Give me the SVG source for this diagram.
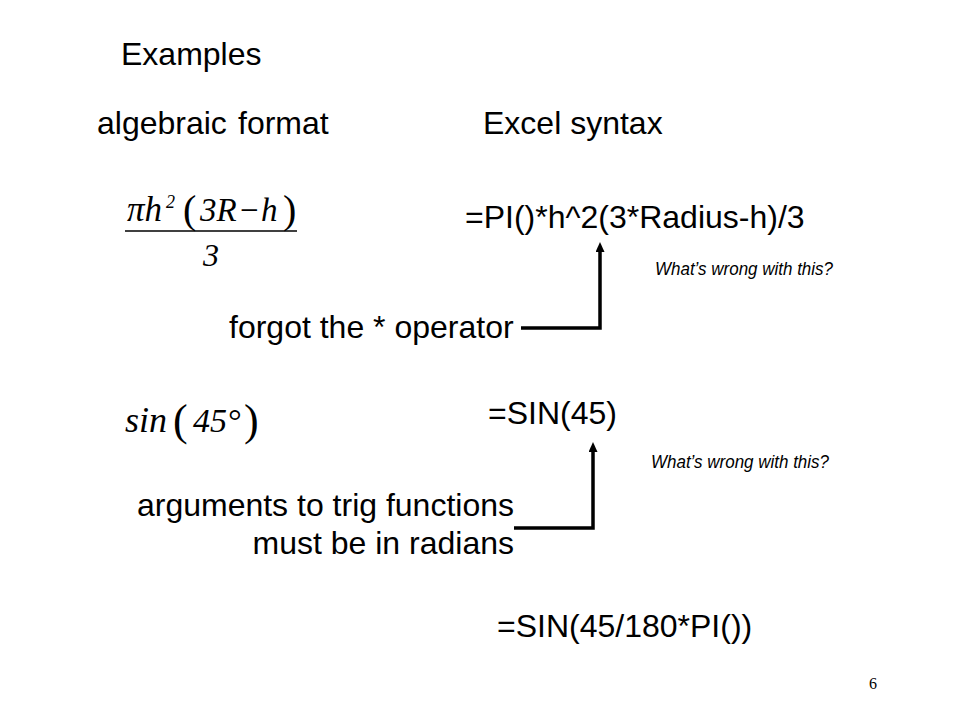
<svg xmlns="http://www.w3.org/2000/svg" width="960" height="720" viewBox="0 0 960 720">
<style>
.t{font-family:"Liberation Sans",Arial,sans-serif;font-size:32px;fill:#000}
.x{font-family:"Liberation Sans",Arial,sans-serif;font-size:32px;fill:#000}
.q{font-family:"Liberation Sans",Arial,sans-serif;font-size:19px;font-style:italic;fill:#000}
.m{font-family:"Liberation Serif","Times New Roman",serif;font-style:italic;fill:#000}
.p{font-family:"Liberation Serif","Times New Roman",serif;fill:#000}
.c{fill:none;stroke:#000;stroke-width:3.5}
</style>
<defs>
<marker id="ah" viewBox="0 0 10 9" refX="4" refY="4.5" markerUnits="userSpaceOnUse" markerWidth="10" markerHeight="9" orient="auto"><path d="M0,0L10,4.5L0,9z" fill="#000"/></marker>
</defs>
<rect width="960" height="720" fill="#fff"/>
<g id="title"><text class="t" x="121" y="65" font-size="29">Examples</text></g>
<g id="headers">
<text class="t" x="97" y="134">algebraic</text>
<text class="t" x="238" y="134">format</text>
<text class="t" x="483" y="134">Excel syntax</text>
</g>
<g id="formula1">
<text class="m" x="127" y="221" font-size="35">πh</text>
<text class="m" x="166" y="208" font-size="18">2</text>
<text class="p" x="183" y="223" font-size="40">(</text>
<text class="m" x="200" y="221" font-size="33">3R</text>
<text class="p" x="240" y="221" font-size="33">−</text>
<text class="m" x="261" y="221" font-size="33">h</text>
<text class="p" x="283" y="223" font-size="40">)</text>
<line x1="125" y1="231" x2="297" y2="231" stroke="#000" stroke-width="1.5"/>
<text class="m" x="203" y="266" font-size="32">3</text>
</g>
<g id="excel1"><text class="x" x="465" y="228">=PI()*h^2(3*Radius-h)/3</text></g>
<g id="q1"><text class="q" x="655" y="275" textLength="178" lengthAdjust="spacingAndGlyphs">What’s wrong with this?</text></g>
<g id="note1"><text class="t" x="229" y="338">forgot the * operator</text></g>
<g id="formula2">
<text class="m" x="125" y="432" font-size="36">sin</text>
<text class="p" x="173" y="435" font-size="44">(</text>
<text class="m" x="193" y="432" font-size="34">45°</text>
<text class="p" x="244" y="435" font-size="44">)</text>
</g>
<g id="excel2"><text class="x" x="488" y="424">=SIN(45)</text></g>
<g id="q2"><text class="q" x="651" y="468" textLength="178" lengthAdjust="spacingAndGlyphs">What’s wrong with this?</text></g>
<g id="note2">
<text class="t" x="514" y="516" text-anchor="end">arguments to trig functions</text>
<text class="t" x="514" y="554" text-anchor="end">must be in radians</text>
</g>
<g id="excel3"><text class="x" x="497" y="637">=SIN(45/180*PI())</text></g>
<g id="page"><text class="p" x="869" y="689" font-size="16">6</text></g>
<g id="connectors">
<polyline class="c" points="521,328 600,328 600,248" marker-end="url(#ah)"/>
<polyline class="c" points="514,528 593,528 593,448" marker-end="url(#ah)"/>
</g>
</svg>
